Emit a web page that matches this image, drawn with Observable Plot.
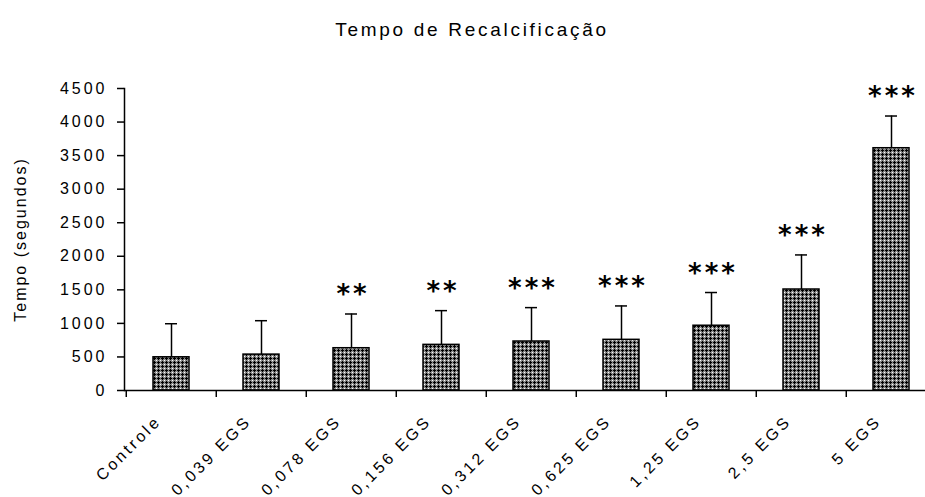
<!DOCTYPE html>
<html><head><meta charset="utf-8">
<script src="https://cdn.jsdelivr.net/npm/d3@7"></script>
<script src="https://cdn.jsdelivr.net/npm/@observablehq/plot@0.6"></script>
<style>body{margin:0;background:#fff}</style>
</head><body><div id="chart"></div>
<script>
const title = "Tempo de Recalcificação";
const yLabel = "Tempo (segundos)";
const categories = ["Controle","0,039 EGS","0,078 EGS","0,156 EGS","0,312 EGS","0,625 EGS","1,25 EGS","2,5 EGS","5 EGS"];
const means = [495, 535, 630, 680, 730, 755, 965, 1505, 3610];
const upper = [995, 1040, 1140, 1190, 1235, 1260, 1460, 2020, 4090];
const signif = ["", "", "**", "**", "***", "***", "***", "***", "***"];
const yTicks = [0, 500, 1000, 1500, 2000, 2500, 3000, 3500, 4000, 4500];

const data = categories.map((c, i) => ({cat: c, mean: means[i], up: upper[i], sig: signif[i]}));
const xRange = [124, 938];
const halfStep = (xRange[1] - xRange[0]) / categories.length / 2;

const plot = Plot.plot({
  width: 925, height: 497,
  marginTop: 88, marginBottom: 107, marginLeft: 124, marginRight: 0,
  style: {fontFamily: "'Liberation Sans', Arial, sans-serif", fontSize: "16px", color: "#000", background: "#fff"},
  x: {domain: categories, range: xRange, paddingInner: 0.6, paddingOuter: 0.3, axis: null},
  y: {domain: [0, 4500], axis: null},
  marks: [
    Plot.barY(data, {x: "cat", y: "mean", fill: "#808080", stroke: "#000", strokeWidth: 1.5}),
    Plot.ruleX(data, {x: "cat", y1: "mean", y2: "up", stroke: "#000", strokeWidth: 1.5}),
    Plot.tickY(data, {x: "cat", y: "up", stroke: "#000", strokeWidth: 1.5, insetLeft: 12, insetRight: 12}),
    Plot.text(data, {x: "cat", y: "up", text: "sig", dy: -19, dx: 1.5, fontSize: 26, fontWeight: "bold", fontFamily: "DejaVu Sans", fill: "#000"}),
    Plot.ruleY([0], {stroke: "#000", strokeWidth: 1.5}),
    Plot.frame({anchor: "left", stroke: "#000", strokeWidth: 1.5}),
    Plot.ruleX(categories, {x: d => d, y1: 0, y2: 0, dx: -halfStep, insetBottom: -7, stroke: "#000", strokeWidth: 1.5}),
    Plot.axisY({ticks: yTicks, tickSize: 7, tickPadding: 10, tickFormat: d => String(d), label: null, fontSize: 16, strokeWidth: 1.5}),
    Plot.text(data, {x: "cat", text: "cat", frameAnchor: "bottom", rotate: -45, textAnchor: "end", lineAnchor: "middle", dx: -13, dy: 28, fontSize: 16, fill: "#000"}),
    Plot.text([yLabel], {frameAnchor: "left", textAnchor: "middle", rotate: -90, dx: -104, fontSize: 16, fill: "#000"}),
    Plot.text([title], {frameAnchor: "top", textAnchor: "middle", dx: -53, dy: -66, fontSize: 19, fill: "#000"})
  ]
});

const svg = d3.select(plot);
const defs = svg.insert("defs", ":first-child");
const pat = defs.append("pattern").attr("id", "hatch").attr("patternUnits", "userSpaceOnUse").attr("width", 4).attr("height", 4);
pat.append("rect").attr("width", 4).attr("height", 4).attr("fill", "#8a8a8a");
pat.append("rect").attr("x", 1).attr("y", 2).attr("width", 3).attr("height", 1).attr("fill", "#000");
pat.append("rect").attr("x", 2).attr("y", 1).attr("width", 1).attr("height", 3).attr("fill", "#000");
pat.append("rect").attr("x", 0).attr("y", 0).attr("width", 1).attr("height", 1).attr("fill", "#fff");
svg.selectAll("g[aria-label='bar']").attr("fill", "url(#hatch)");
svg.selectAll("text").each(function() {
  const t = this.textContent;
  const el = d3.select(this);
  if (t === title) el.attr("letter-spacing", "2.7px");
  else if (t === yLabel) el.attr("letter-spacing", "2px");
  else el.attr("letter-spacing", "3px");
});
document.getElementById("chart").appendChild(plot);
</script>
</body></html>
